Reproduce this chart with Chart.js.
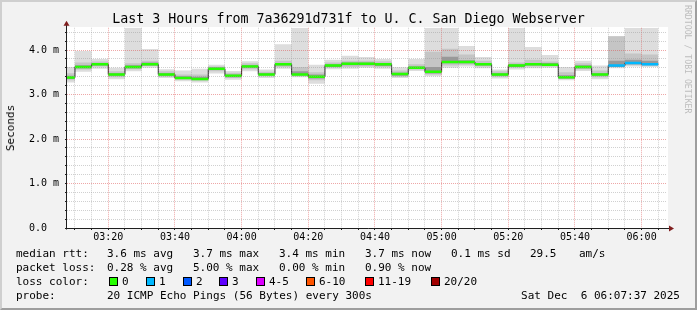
<!DOCTYPE html>
<html>
<head>
<meta charset="utf-8">
<script src="https://cdn.jsdelivr.net/npm/chart.js@4.4.1/dist/chart.umd.min.js"></script>
<style>
    body { margin: 0; background: #f2f2f2; }
    #quadro { position: relative; width: 697px; height: 310px; background: #f2f2f2; overflow: hidden; font-family: 'DejaVu Sans Mono', monospace; color: #000; }
    #grafico { position: absolute; left: 0; top: 0; }
    #moldura { position: absolute; left: 0; top: 0; width: 697px; height: 310px; box-sizing: border-box; border-top: 2px solid #cfcfcf; border-left: 2px solid #cfcfcf; border-right: 2px solid #9e9e9e; border-bottom: 2px solid #9e9e9e; pointer-events: none; }
    .txt { position: absolute; white-space: pre; font-size: 11px; line-height: 14px; }
    #titulo { position: absolute; left: 0; width: 697px; top: 11px; text-align: center; font-size: 13.3px; line-height: 16px; white-space: pre; }
    #eixoY { position: absolute; left: 11px; top: 128px; font-size: 11px; line-height: 14px; transform: translate(-50%, -50%) rotate(-90deg); white-space: pre; }
    #marca { position: absolute; left: 683px; top: 5px; font-size: 8.2px; line-height: 9px; writing-mode: vertical-rl; color: #bdbdbd; white-space: pre; }
    .caixa { position: absolute; width: 9px; height: 9px; box-sizing: border-box; border: 1px solid #000; top: 277px; }
</style>
</head>
<body>
<div id="quadro">
    <canvas id="grafico" width="697" height="310"></canvas>
    <div id="titulo">Last 3 Hours from 7a36291d731f to U. C. San Diego Webserver</div>
    <div id="eixoY">Seconds</div>
    <div id="marca">RRDTOOL / TOBI OETIKER</div>
    <div id="legenda"></div>
    <div id="moldura"></div>
</div>
<script>
// inicio de cada intervalo de 5 min (o primeiro fica cortado pela janela)
const slotStart = ['03:05', '03:10', '03:15', '03:20', '03:25', '03:30', '03:35', '03:40', '03:45', '03:50',
    '03:55', '04:00', '04:05', '04:10', '04:15', '04:20', '04:25', '04:30', '04:35', '04:40',
    '04:45', '04:50', '04:55', '05:00', '05:05', '05:10', '05:15', '05:20', '05:25', '05:30',
    '05:35', '05:40', '05:45', '05:50', '05:55', '06:00'];
const slotEnd = '06:05';
const janelaInicio = '03:07:37';
const janelaFim = '06:07:37';

// ms
const median = [3.38, 3.62, 3.68, 3.45, 3.62, 3.68, 3.45, 3.37, 3.35, 3.58,
    3.42, 3.63, 3.45, 3.68, 3.45, 3.40, 3.65, 3.69, 3.69, 3.68,
    3.46, 3.60, 3.51, 3.73, 3.73, 3.68, 3.45, 3.65, 3.68, 3.67,
    3.39, 3.62, 3.45, 3.65, 3.71, 3.68];
const pingMin = [3.27, 3.51, 3.58, 3.34, 3.52, 3.60, 3.37, 3.30, 3.27, 3.47,
    3.33, 3.52, 3.37, 3.58, 3.39, 3.24, 3.57, 3.58, 3.60, 3.58,
    3.37, 3.53, 3.41, 3.60, 3.63, 3.59, 3.36, 3.56, 3.59, 3.60,
    3.32, 3.53, 3.34, 3.59, 3.63, 3.62];
const pingMax = [3.62, 3.98, 3.80, 3.60, 4.60, 4.02, 3.57, 3.54, 3.58, 3.67,
    3.53, 3.75, 3.56, 4.13, 4.60, 3.67, 3.78, 3.87, 3.84, 3.80,
    3.61, 3.80, 4.60, 4.60, 4.09, 3.84, 3.56, 4.60, 4.07, 3.89,
    3.62, 3.76, 3.65, 4.31, 4.60, 4.60];
const midLo = [3.32, 3.56, 3.63, 3.39, 3.57, 3.64, 3.40, 3.33, 3.31, 3.52,
    3.37, 3.57, 3.41, 3.62, 3.41, 3.32, 3.60, 3.62, 3.63, 3.62,
    3.40, 3.56, 3.45, 3.65, 3.67, 3.63, 3.40, 3.60, 3.63, 3.63,
    3.35, 3.57, 3.39, 3.62, 3.66, 3.65];
const midHi = [3.48, 3.72, 3.74, 3.52, 3.70, 3.76, 3.52, 3.45, 3.45, 3.63,
    3.49, 3.70, 3.51, 3.76, 3.62, 3.50, 3.72, 3.76, 3.76, 3.75,
    3.54, 3.68, 3.96, 4.03, 3.90, 3.76, 3.52, 3.72, 3.78, 3.74,
    3.50, 3.70, 3.54, 4.31, 3.92, 3.90];
const coreLo = [3.35, 3.59, 3.65, 3.42, 3.59, 3.65, 3.42, 3.35, 3.33, 3.55,
    3.39, 3.60, 3.43, 3.65, 3.43, 3.36, 3.62, 3.66, 3.66, 3.64,
    3.42, 3.58, 3.47, 3.70, 3.70, 3.65, 3.42, 3.62, 3.65, 3.65,
    3.36, 3.59, 3.42, 3.62, 3.68, 3.66];
const coreHi = [3.42, 3.66, 3.71, 3.48, 3.66, 3.72, 3.48, 3.41, 3.40, 3.61,
    3.45, 3.66, 3.48, 3.71, 3.52, 3.45, 3.68, 3.72, 3.72, 3.71,
    3.49, 3.63, 3.62, 3.85, 3.77, 3.71, 3.48, 3.68, 3.71, 3.71,
    3.43, 3.66, 3.48, 3.76, 3.78, 3.76];
// pings perdidos (de 20)
const lossCount = [0, 0, 0, 0, 0, 0, 0, 0, 0, 0,
    0, 0, 0, 0, 0, 0, 0, 0, 0, 0,
    0, 0, 0, 0, 0, 0, 0, 0, 0, 0,
    0, 0, 0, 1, 1, 1];

const xTickLabels = ['03:20', '03:40', '04:00', '04:20', '04:40', '05:00', '05:20', '05:40', '06:00'];
const yTickLabels = ['0.0', '1.0 m', '2.0 m', '3.0 m', '4.0 m'];
const lossLabels = ['0', '1', '2', '3', '4-5', '6-10', '11-19', '20/20'];
const lossColors = ['#26ff00', '#00b8ff', '#0059ff', '#5e00ff', '#dd00ff', '#ff5500', '#ff0000', '#a10000'];

function minutos(hora) {
    const p = hora.split(':').map(Number);
    return p[0] * 60 + p[1] + (p[2] || 0) / 60;
}

function formatarHora(v) {
    const h = Math.floor(v / 60);
    const m = Math.round(v - h * 60);
    return String(h).padStart(2, '0') + ':' + String(m).padStart(2, '0');
}

function corPerda(n) {
    if (n <= 3) return lossColors[n];
    if (n <= 5) return lossColors[4];
    if (n <= 10) return lossColors[5];
    if (n <= 19) return lossColors[6];
    return lossColors[7];
}

const xs = slotStart.map(minutos);
const xFim = minutos(slotEnd);

// linha em degraus: valor de cada intervalo ate o inicio do proximo
function degraus(valores) {
    const pts = valores.map((v, i) => ({ x: xs[i], y: v }));
    pts.push({ x: xFim, y: valores[valores.length - 1] });
    return pts;
}

function trechosMediana() {
    const pts = [];
    median.forEach((v, i) => {
        const fim = i + 1 < xs.length ? xs[i + 1] : xFim;
        pts.push({ x: xs[i], y: v }, { x: fim, y: v }, { x: fim, y: null });
    });
    return pts;
}

function faixa(dados, cor, fill, ordem) {
    return {
        data: degraus(dados),
        stepped: 'before',
        borderColor: 'rgba(0,0,0,0)',
        borderWidth: 0,
        backgroundColor: cor,
        fill: fill,
        pointRadius: 0,
        order: ordem,
        clip: 0
    };
}

// legenda de baixo, no estilo do rrdtool
function montarLegenda() {
    const leg = document.getElementById('legenda');
    const linhas = [
        [247, [[16, 'median rtt:'], [107, '3.6 ms avg'], [193, '3.7 ms max'], [279, '3.4 ms min'], [365, '3.7 ms now'], [451, '0.1 ms sd'], [530, '29.5'], [579, 'am/s']]],
        [261, [[16, 'packet loss:'], [107, '0.28 % avg'], [193, '5.00 % max'], [279, '0.00 % min'], [365, '0.90 % now']]],
        [275, [[16, 'loss color:']]],
        [289, [[16, 'probe:'], [107, '20 ICMP Echo Pings (56 Bytes) every 300s']]]
    ];
    linhas.forEach(([top, partes]) => {
        partes.forEach(([x, t]) => {
            leg.innerHTML += `<div class="txt" style="left:${x}px;top:${top}px">${t}</div>`;
        });
    });
    const caixasX = [109, 146, 183, 219, 256, 306, 365, 431];
    lossLabels.forEach((rot, i) => {
        leg.innerHTML += `<div class="caixa" style="left:${caixasX[i]}px;background:${lossColors[i]}"></div>`;
        leg.innerHTML += `<div class="txt" style="left:${caixasX[i] + 13}px;top:275px">${rot}</div>`;
    });
    leg.innerHTML += `<div class="txt" style="right:17px;top:289px">Sat Dec  6 06:07:37 2025</div>`;
}

const eixosPlugin = {
    id: 'eixos',
    beforeDraw(chart) {
        const a = chart.chartArea;
        const ctx = chart.ctx;
        ctx.save();
        ctx.fillStyle = '#ffffff';
        ctx.fillRect(a.left, Math.floor(a.top), a.right - a.left + 1, a.bottom - Math.floor(a.top));
        ctx.restore();
    },
    afterDraw(chart) {
        const a = chart.chartArea;
        const ctx = chart.ctx;
        const x0 = a.left - 0.5;
        const y0 = a.bottom + 0.5;
        ctx.save();
        ctx.strokeStyle = '#1f1f1f';
        ctx.lineWidth = 1;
        ctx.beginPath();
        ctx.moveTo(x0 - 1, y0);
        ctx.lineTo(a.right + 5, y0);
        ctx.moveTo(x0, y0 + 1);
        ctx.lineTo(x0, a.top - 5);
        ctx.stroke();
        ctx.fillStyle = '#801f1f';
        ctx.beginPath();
        ctx.moveTo(x0, a.top - 7);
        ctx.lineTo(x0 - 3, a.top - 2);
        ctx.lineTo(x0 + 3, a.top - 2);
        ctx.closePath();
        ctx.fill();
        ctx.beginPath();
        ctx.moveTo(a.right + 7, y0);
        ctx.lineTo(a.right + 2, y0 - 3);
        ctx.lineTo(a.right + 2, y0 + 3);
        ctx.closePath();
        ctx.fill();
        ctx.restore();
    }
};

function ehInteiro(v) {
    return Math.abs(v - Math.round(v)) < 1e-6;
}

function gerarGrafico() {
    const ctx = document.getElementById('grafico').getContext('2d');
    const xMin = minutos(janelaInicio);
    const xMax = minutos(janelaFim);
    const fonteEixo = { family: 'DejaVu Sans Mono', size: 10 };

    new Chart(ctx, {
        type: 'line',
        data: {
            datasets: [
                faixa(pingMin, 'rgba(0,0,0,0)', false, 5),
                faixa(pingMax, '#dddddd', '-1', 5),
                faixa(midLo, 'rgba(0,0,0,0)', false, 4),
                faixa(midHi, '#c5c5c5', '-1', 4),
                faixa(coreLo, 'rgba(0,0,0,0)', false, 3),
                faixa(coreHi, '#999999', '-1', 3),
                {
                    data: degraus(median),
                    stepped: 'before',
                    borderColor: '#202020',
                    borderWidth: 1,
                    pointRadius: 0,
                    fill: false,
                    order: 2,
                    clip: 0
                },
                {
                    data: trechosMediana(),
                    borderColor: lossColors[0],
                    borderWidth: 2.5,
                    pointRadius: 0,
                    fill: false,
                    spanGaps: false,
                    order: 1,
                    clip: 0,
                    segment: {
                        borderColor: c => corPerda(lossCount[Math.floor(c.p0DataIndex / 3)])
                    }
                }
            ]
        },
        options: {
            responsive: false,
            devicePixelRatio: 1,
            animation: false,
            events: [],
            layout: { padding: { top: 27.75, right: 30, left: 0, bottom: 0 } },
            plugins: {
                legend: { display: false },
                tooltip: { enabled: false },
                title: { display: false }
            },
            scales: {
                x: {
                    type: 'linear',
                    min: xMin,
                    max: xMax,
                    afterFit: s => { s.height = 82; },
                    afterBuildTicks: s => {
                        const t = [];
                        for (let v = Math.ceil(xMin / 5) * 5; v < xMax; v += 5) t.push({ value: v });
                        s.ticks = t;
                    },
                    border: { display: false, dash: [1, 1] },
                    grid: {
                        z: 1,
                        lineWidth: 1,
                        color: c => (c.tick && Math.round(c.tick.value) % 20 === 0) ? 'rgba(222,79,79,0.5)' : 'rgba(150,150,150,0.45)',
                        tickLength: 2,
                        tickColor: '#1f1f1f'
                    },
                    ticks: {
                        autoSkip: false,
                        maxRotation: 0,
                        minRotation: 0,
                        padding: 1,
                        color: '#000',
                        font: fonteEixo,
                        callback: v => {
                            const h = formatarHora(v);
                            return xTickLabels.includes(h) ? h : '';
                        }
                    }
                },
                y: {
                    type: 'linear',
                    min: 0,
                    max: 4.5,
                    afterFit: s => { s.width = 67; },
                    afterBuildTicks: s => {
                        const t = [];
                        for (let k = 0; k * 0.2 < 4.5; k++) t.push({ value: Math.round(k * 2) / 10 });
                        s.ticks = t;
                    },
                    border: { display: false, dash: [1, 1] },
                    grid: {
                        z: 1,
                        lineWidth: 1,
                        color: c => (c.tick && ehInteiro(c.tick.value)) ? 'rgba(222,79,79,0.5)' : 'rgba(150,150,150,0.45)',
                        tickLength: 2,
                        tickColor: '#1f1f1f'
                    },
                    ticks: {
                        autoSkip: false,
                        padding: 6,
                        color: '#000',
                        font: fonteEixo,
                        callback: v => ehInteiro(v) ? yTickLabels[Math.round(v)].padEnd(5, ' ') : ''
                    }
                }
            }
        },
        plugins: [eixosPlugin]
    });
}

montarLegenda();
gerarGrafico();
</script>
</body>
</html>
